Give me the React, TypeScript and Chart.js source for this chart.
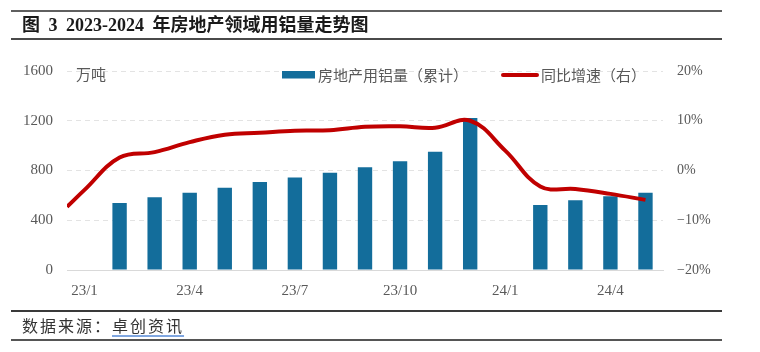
import React, { useEffect, useRef } from "react";
import { Chart, registerables } from "chart.js";

Chart.register(...registerables);

// ---- data ----
const months = ["23/1", "23/2", "23/3", "23/4", "23/5", "23/6", "23/7", "23/8", "23/9", "23/10", "23/11", "23/12", "24/1", "24/2", "24/3", "24/4", "24/5"];
const tickMonths = ["23/1", "23/4", "23/7", "23/10", "24/1", "24/4"];
const usage: (number | null)[] = [null, 539, 585, 621, 661, 707, 744, 782, 827, 875, 950, 1223, null, 523, 560, 592, 621];
const growth = [-3.9, 2.6, 3.7, 5.7, 7.2, 7.6, 8.0, 8.1, 8.8, 8.9, 8.6, 10.0, 4.0, -3.2, -3.7, -4.7, -5.9];
const growthLeadIn = -7.3; // value of the curve where it meets the left edge of the plot
const leftTicks = [0, 400, 800, 1200, 1600];
const rightTicks = [-20, -10, 0, 10, 20];

const barLabel = "房地产用铝量（累计）";
const lineLabel = "同比增速（右）";
const unitLabel = "万吨";
const titleText = "图 3 2023-2024 年房地产领域用铝量走势图";
const sourceLabel = "数据来源：";
const sourceName = "卓创资讯";

const BAR_COLOR = "#136d9b";
const LINE_COLOR = "#c00000";
const TICK_COLOR = "#595959";
const NUM_FONT = '"Liberation Serif", "Noto Sans CJK SC", serif';
const CJK_FONT = '"Noto Sans CJK SC", sans-serif';

const legendPlugin = {
  id: "customLegend",
  afterDraw(chart: any) {
    const { ctx, chartArea } = chart;
    const L = chartArea.left;
    const T = chartArea.top;
    ctx.save();
    ctx.font = `15px ${CJK_FONT}`;
    ctx.fillStyle = TICK_COLOR;
    ctx.textBaseline = "middle";
    ctx.textAlign = "left";
    ctx.fillText(unitLabel, L + 9, T + 3);

    // bar legend
    ctx.fillStyle = BAR_COLOR;
    ctx.fillRect(L + 215, T, 33, 7.5);
    ctx.fillStyle = TICK_COLOR;
    ctx.fillText(barLabel, L + 251, T + 4);

    // line legend
    ctx.strokeStyle = LINE_COLOR;
    ctx.lineWidth = 4;
    ctx.lineCap = "round";
    ctx.beginPath();
    ctx.moveTo(L + 436, T + 4);
    ctx.lineTo(L + 470, T + 4);
    ctx.stroke();
    ctx.fillText(lineLabel, L + 474, T + 4);
    ctx.restore();
  },
};

export default function App() {
  const ref = useRef<HTMLCanvasElement | null>(null);

  useEffect(() => {
    if (!ref.current) return;
    const barData = months
      .map((m, i) => ({ x: i, y: usage[i] }))
      .filter((d) => d.y !== null);
    const lineData = [{ x: -0.5, y: growthLeadIn }, ...growth.map((v, i) => ({ x: i, y: v }))];

    const chart = new Chart(ref.current, {
      type: "bar",
      data: {
        datasets: [
          {
            type: "line",
            label: lineLabel,
            data: lineData as any,
            borderColor: LINE_COLOR,
            borderWidth: 4,
            tension: 0.4,
            pointRadius: 0,
            yAxisID: "y1",
            xAxisID: "x",
            order: 0,
          } as any,
          {
            type: "bar",
            label: barLabel,
            data: barData as any,
            backgroundColor: BAR_COLOR,
            barPercentage: 0.41,
            categoryPercentage: 1,
            yAxisID: "y",
            xAxisID: "x",
            order: 1,
          },
        ],
      },
      options: {
        responsive: false,
        animation: false,
        devicePixelRatio: 1,
        layout: { padding: { top: 71, bottom: 50, left: 0, right: 0 } },
        plugins: { legend: { display: false }, tooltip: { enabled: false }, title: { display: false } },
        scales: {
          x: {
            type: "linear",
            offset: false,
            min: -0.5,
            max: months.length - 0.5,
            afterBuildTicks: (axis: any) => {
              axis.ticks = tickMonths.map((m) => ({ value: months.indexOf(m) }));
            },
            afterFit: (axis: any) => {
              axis.height = 32;
            },
            grid: { display: false, drawTicks: false, offset: false },
            border: { display: true, color: "#d9d9d9", width: 1 },
            ticks: {
              autoSkip: false,
              maxRotation: 0,
              padding: 12,
              color: TICK_COLOR,
              font: { family: NUM_FONT, size: 15 },
              callback: (v: any) => months[Number(v)] ?? "",
            },
          },
          y: {
            type: "linear",
            position: "left",
            min: 0,
            max: 1600,
            afterBuildTicks: (axis: any) => {
              axis.ticks = leftTicks.map((v) => ({ value: v }));
            },
            afterFit: (axis: any) => {
              axis.width = 67;
            },
            grid: { color: "#e3e3e3", lineWidth: 1, drawTicks: false },
            border: { display: false, dash: [5, 4] },
            ticks: {
              padding: 14,
              color: TICK_COLOR,
              font: { family: NUM_FONT, size: 15 },
              callback: (v: any) => String(v),
            },
          },
          y1: {
            type: "linear",
            position: "right",
            min: -20,
            max: 20,
            afterBuildTicks: (axis: any) => {
              axis.ticks = rightTicks.map((v) => ({ value: v }));
            },
            afterFit: (axis: any) => {
              axis.width = 97;
            },
            grid: { display: false, drawTicks: false },
            border: { display: false },
            ticks: {
              padding: 14,
              color: TICK_COLOR,
              font: { family: NUM_FONT, size: 14 },
              callback: (v: any) => (Number(v) < 0 ? "−" + Math.abs(Number(v)) : String(v)) + "%",
            },
          },
        },
      },
      plugins: [legendPlugin],
    });
    return () => chart.destroy();
  }, []);

  return (
    <div style={{ position: "absolute", left: 0, top: 0, width: 760, height: 352, background: "#fff", overflow: "hidden" }}>
      <canvas ref={ref} width={760} height={352} style={{ position: "absolute", left: 0, top: 0, width: 760, height: 352 }} />
      <div
        style={{
          position: "absolute",
          left: 11,
          top: 10,
          width: 711,
          height: 30,
          boxSizing: "border-box",
          borderTop: "2px solid #5f5f5f",
          borderBottom: "2px solid #4a4a4a",
          paddingLeft: 11,
          fontFamily: '"Liberation Serif", "Noto Sans CJK SC", serif',
          fontWeight: 700,
          fontSize: 18,
          wordSpacing: 4,
          lineHeight: "26px",
          color: "#1a1a1a",
          whiteSpace: "nowrap",
        }}
      >
        {titleText}
      </div>
      <div
        style={{
          position: "absolute",
          left: 11,
          top: 310,
          width: 711,
          height: 31,
          boxSizing: "border-box",
          borderTop: "2px solid #3a3a3a",
          borderBottom: "2px solid #555555",
          paddingLeft: 11,
          fontFamily: CJK_FONT,
          fontSize: 16,
          letterSpacing: 2,
          lineHeight: "27px",
          color: "#333333",
          whiteSpace: "nowrap",
        }}
      >
        {sourceLabel}
        <span style={{ textDecoration: "underline", textDecorationColor: "#7fa6e0", textDecorationThickness: 2, textUnderlineOffset: 3 }}>
          {sourceName}
        </span>
      </div>
    </div>
  );
}
